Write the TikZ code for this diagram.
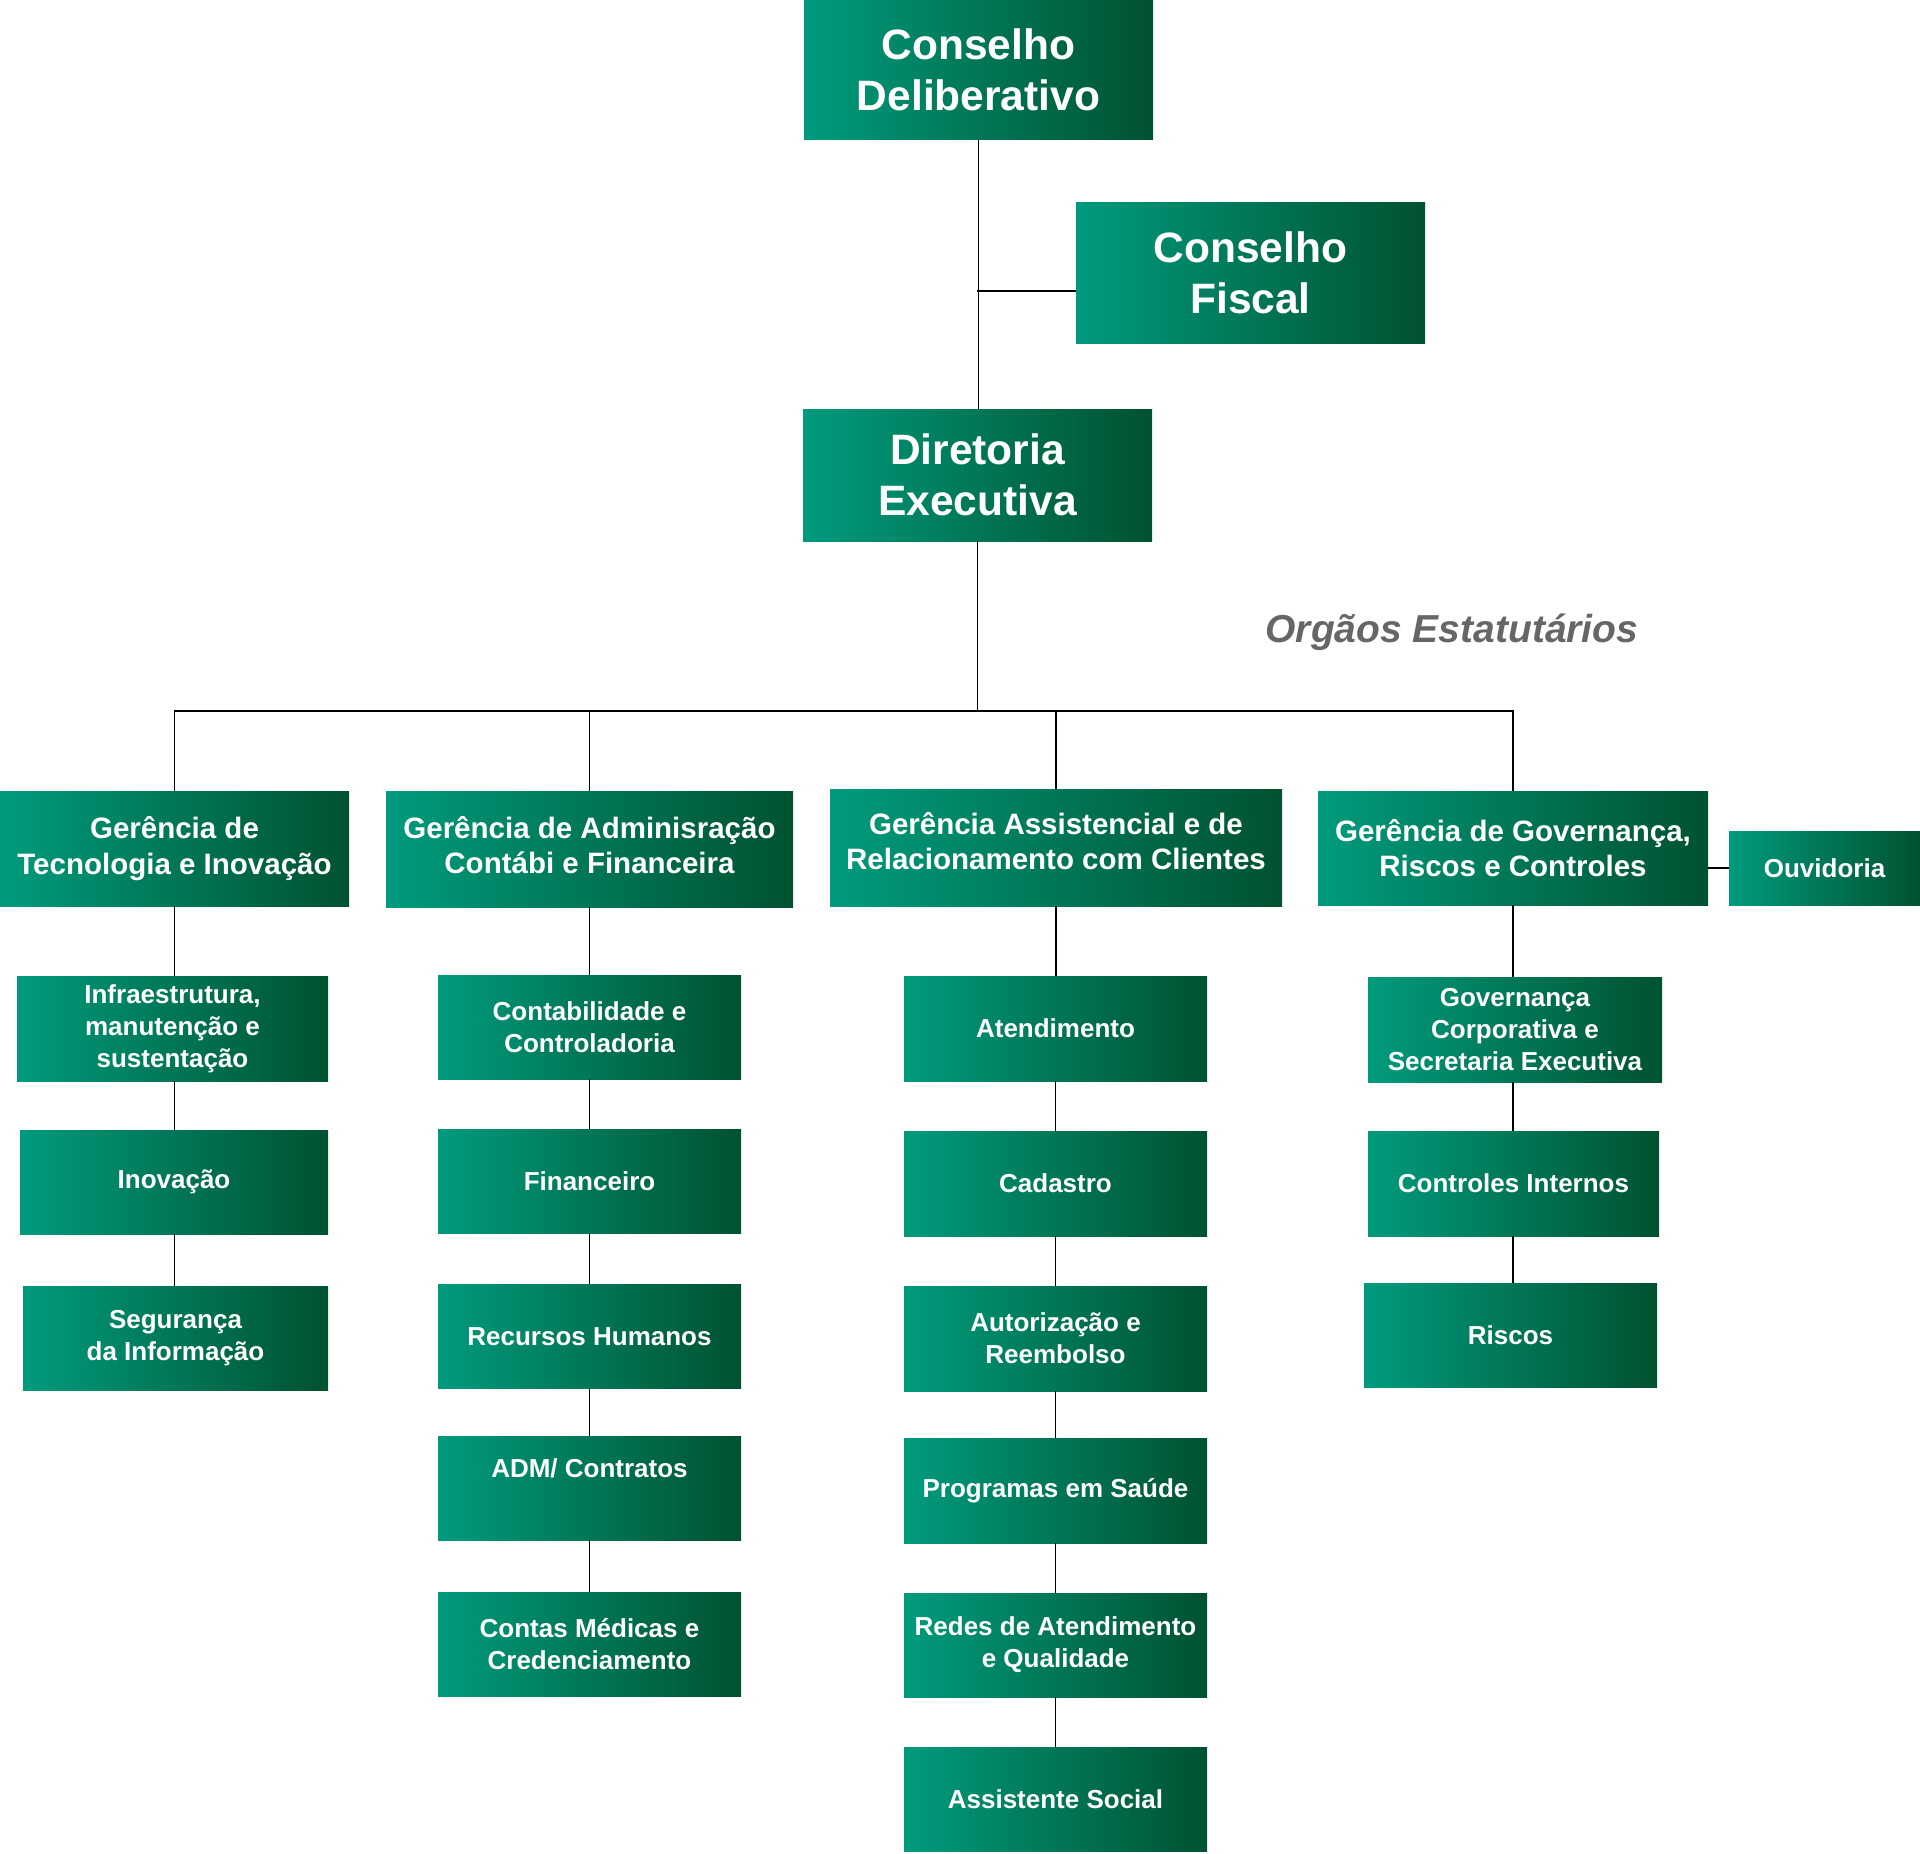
\documentclass[tikz,border=0pt]{standalone}
\usepackage{fontspec}
\setmainfont{Liberation Sans}
\usetikzlibrary{calc}
\definecolor{gl}{RGB}{0,155,125}
\definecolor{gr}{RGB}{0,82,48}
\definecolor{lbl}{RGB}{102,102,102}
\tikzset{
  box/.style={rectangle, inner sep=0pt, left color=gl, right color=gr, text=white, align=center, font=\bfseries},
  big/.style={font=\fontsize{42.5}{51}\selectfont\bfseries},
  mid/.style={font=\fontsize{29.5}{35.5}\selectfont\bfseries},
  sml/.style={font=\fontsize{26}{32}\selectfont\bfseries},
  wtxt/.style={text=white, align=center, inner sep=0pt},
  conn/.style={line width=1.5pt, black},
}
\begin{document}
\begin{tikzpicture}[x=1pt,y=-1pt]
\useasboundingbox (0,0) rectangle (1920,1854);
% top
\node[box,big,minimum width=349pt,minimum height=140pt] (cd) at (978.5,70) {Conselho\\Deliberativo};
\node[box,big,minimum width=349pt,minimum height=140pt] (cf) at (1250.5,273) {Conselho\\Fiscal};
\node[box,big,minimum width=349pt,minimum height=132pt] (de) at (977.5,475) {Diretoria\\Executiva};
\node[font=\fontsize{39}{47}\selectfont\bfseries\itshape, text=lbl] (org) at (1452,632) {Orgãos Estatutários};
% level 2
\node[box,mid,minimum width=349pt,minimum height=115pt] (g1) at (174.5,848.5) {Gerência de\\Tecnologia e Inovação};
\node[box,minimum width=407pt,minimum height=116pt] (g2) at (589.5,849) {};
\node[wtxt,mid] (g2t) at (589.5,845) {Gerência de Adminisração\\Contábi e Financeira};
\node[box,minimum width=452pt,minimum height=117pt] (g3) at (1056,847.5) {};
\node[wtxt,mid] (g3t) at (1056,841) {Gerência Assistencial e de\\Relacionamento com Clientes};
\node[box,mid,minimum width=390pt,minimum height=114pt] (g4) at (1513,848) {Gerência de Governança,\\Riscos e Controles};
\node[box,sml,minimum width=191pt,minimum height=74pt] (ouv) at (1824.5,868) {Ouvidoria};
% column 1
\node[box,sml,minimum width=311pt,minimum height=105pt] (infra) at (172.5,1028.5) {Infraestrutura,\\manutenção e\\sustentação};
\node[box,sml,minimum width=308pt,minimum height=104pt] (inov) at (174,1182) {Inovação};
\node[box,sml,minimum width=305pt,minimum height=104pt] (seg) at (175.5,1338) {Segurança\\da Informação};
% column 2
\node[box,sml,minimum width=303pt,minimum height=104pt] (cont) at (589.5,1027) {Contabilidade e\\Controladoria};
\node[box,sml,minimum width=303pt,minimum height=104pt] (fin) at (589.5,1181.5) {Financeiro};
\node[box,sml,minimum width=303pt,minimum height=104pt] (rh) at (589.5,1336.5) {Recursos Humanos};
\node[box,minimum width=303pt,minimum height=104pt] (adm) at (589.5,1488) {};
\node[wtxt,sml] (admt) at (589.5,1468) {ADM/ Contratos};
\node[box,sml,minimum width=303pt,minimum height=104pt] (cmed) at (589.5,1644) {Contas Médicas e\\Credenciamento};
% column 3
\node[box,sml,minimum width=303pt,minimum height=105pt] (aten) at (1055.5,1028.5) {Atendimento};
\node[box,sml,minimum width=303pt,minimum height=105pt] (cad) at (1055.5,1183.5) {Cadastro};
\node[box,sml,minimum width=303pt,minimum height=105pt] (aut) at (1055.5,1338.5) {Autorização e\\Reembolso};
\node[box,sml,minimum width=303pt,minimum height=105pt] (prog) at (1055.5,1490.5) {Programas em Saúde};
\node[box,sml,minimum width=303pt,minimum height=104pt] (redes) at (1055.5,1645) {Redes de Atendimento\\e Qualidade};
\node[box,sml,minimum width=303pt,minimum height=104pt] (asoc) at (1055.5,1799) {Assistente Social};
% column 4
\node[box,sml,minimum width=294pt,minimum height=105pt] (gov) at (1515,1029.5) {Governança\\Corporativa e\\Secretaria Executiva};
\node[box,sml,minimum width=291pt,minimum height=105pt] (ctrl) at (1513.5,1183.5) {Controles Internos};
\node[box,sml,minimum width=293pt,minimum height=104pt] (risc) at (1510.5,1335) {Riscos};
% connectors
\coordinate (bus) at (978,711);
\coordinate (fj) at (977,291);
\draw[conn] (cd.south) -- (cd.south |- de.north);
\draw[conn] (cf.west |- fj) -- (fj);
\draw[conn] (de.south) -- (de.south |- bus);
\draw[conn] (g1.north) |- (bus) -| (g4.north);
\draw[conn] (g2.north) -- (g2.north |- bus);
\draw[conn] (g3.north) -- (g3.north |- bus);
\draw[conn] (g4.east |- ouv.west) -- (ouv.west);
% column 1 links
\draw[conn] (g1.south) -- (g1.south |- infra.north);
\draw[conn] (infra.south -| g1.south) -- (inov.north -| g1.south);
\draw[conn] (inov.south -| g1.south) -- (seg.north -| g1.south);
% column 2 links
\draw[conn] (g2.south) -- (cont.north);
\draw[conn] (cont.south) -- (fin.north);
\draw[conn] (fin.south) -- (rh.north);
\draw[conn] (rh.south) -- (adm.north);
\draw[conn] (adm.south) -- (cmed.north);
% column 3 links
\draw[conn] (g3.south) -- (g3.south |- aten.north);
\draw[conn] (aten.south) -- (cad.north);
\draw[conn] (cad.south) -- (aut.north);
\draw[conn] (aut.south) -- (prog.north);
\draw[conn] (prog.south) -- (redes.north);
\draw[conn] (redes.south) -- (asoc.north);
% column 4 links
\draw[conn] (g4.south) -- (g4.south |- gov.north);
\draw[conn] (gov.south -| g4.south) -- (ctrl.north -| g4.south);
\draw[conn] (ctrl.south -| g4.south) -- (risc.north -| g4.south);
\end{tikzpicture}
\end{document}
